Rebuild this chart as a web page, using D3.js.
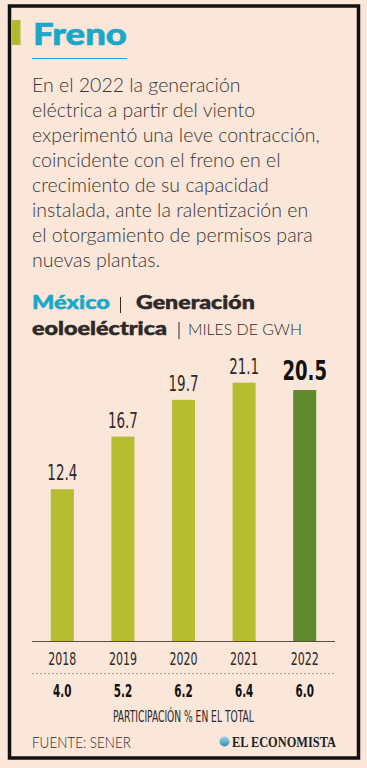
<!DOCTYPE html>
<html>
<head>
<meta charset="utf-8">
<script src="https://cdn.jsdelivr.net/npm/d3@7"></script>
<style>
  html, body { margin: 0; padding: 0; background: #fbe6da; }
  svg { display: block; }
</style>
</head>
<body>
<svg id="chart" width="367" height="768"></svg>
<script>
// data
const years = ['2018', '2019', '2020', '2021', '2022'];
const generation = [12.4, 16.7, 19.7, 21.1, 20.5];   // miles de GWh
const share = [4.0, 5.2, 6.2, 6.4, 6.0];              // participación % en el total

const title = 'Freno';
const bodyLines = [
  'En el 2022 la generación',
  'eléctrica a partir del viento',
  'experimentó una leve contracción,',
  'coincidente con el freno en el',
  'crecimiento de su capacidad',
  'instalada, ante la ralentización en',
  'el otorgamiento de permisos para',
  'nuevas plantas.'
];

const cyan = '#1ba7c9';
const barColor = '#b6bd30';
const lastColor = '#5e8a2b';
const ink = '#2e2826';
const narrow = '"Liberation Sans Narrow", "DejaVu Sans Condensed", sans-serif';
const geo = 'Lato, "Noto Sans", sans-serif';

const svg = d3.select('#chart');

// put a label at (x, y) and scale it horizontally to the width it has in print
function label(x, y, w, txt) {
  const t = svg.append('text').text(txt);
  return {
    t,
    done() {
      const len = t.node().getComputedTextLength();
      t.attr('transform', `translate(${x},${y}) scale(${w / len},1)`);
      return t;
    }
  };
}
function fitted(x, y, w, txt, styler) {
  const l = label(x, y, w, txt);
  styler(l.t);
  return l.done();
}

// frame
svg.append('rect')
  .attr('x', 9.5).attr('y', 6)
  .attr('width', 349).attr('height', 752)
  .attr('fill', 'none').attr('stroke', '#111').attr('stroke-width', 3.5);

svg.append('rect')
  .attr('x', 11.5).attr('y', 20).attr('width', 9).attr('height', 25)
  .attr('fill', '#b2b92c');

// title
fitted(33, 45, 94, title, t => t
  .attr('font-family', geo).attr('font-weight', 900).attr('font-size', 31)
  .attr('fill', cyan).attr('stroke', cyan).attr('stroke-width', 0.6));

svg.append('line')
  .attr('x1', 32).attr('x2', 127).attr('y1', 58.5).attr('y2', 58.5)
  .attr('stroke', cyan).attr('stroke-width', 1);

// body copy
svg.append('g').selectAll('text')
  .data(bodyLines)
  .enter().append('text')
  .attr('x', 32)
  .attr('y', (d, i) => 91.5 + i * 25)
  .attr('font-family', geo).attr('font-weight', 300).attr('font-size', 19.5)
  .attr('fill', '#3a3431')
  .text(d => d);

// chart heading
const heavy = c => t => t
  .attr('font-family', geo).attr('font-weight', 900).attr('font-size', 19)
  .attr('fill', c).attr('stroke', c).attr('stroke-width', 0.5);
fitted(32, 309, 78, 'México', heavy(cyan));
fitted(136, 309, 119, 'Generación', heavy(ink));
svg.append('line').attr('x1', 120.5).attr('x2', 120.5).attr('y1', 297).attr('y2', 313)
  .attr('stroke', ink).attr('stroke-width', 1);

fitted(32, 335, 135, 'eoloeléctrica', heavy(ink));
svg.append('line').attr('x1', 179).attr('x2', 179).attr('y1', 322).attr('y2', 339)
  .attr('stroke', ink).attr('stroke-width', 1);
fitted(188, 335, 114, 'MILES DE GWH', t => t
  .attr('font-family', geo).attr('font-weight', 300).attr('font-size', 15)
  .attr('fill', ink));

// scales
const x = d3.scaleBand()
  .domain(years)
  .range([32, 335])
  .paddingInner(0.62)
  .paddingOuter(0.31);

const y = d3.scaleLinear()
  .domain([0, 21.1])
  .range([641, 382.7]);

const last = years[years.length - 1];

svg.append('g').selectAll('rect')
  .data(years)
  .enter().append('rect')
  .attr('x', d => x(d))
  .attr('y', (d, i) => y(generation[i]))
  .attr('width', x.bandwidth())
  .attr('height', (d, i) => y(0) - y(generation[i]))
  .attr('fill', d => d === last ? lastColor : barColor);

// value labels
svg.append('g').selectAll('text')
  .data(years)
  .enter().append('text')
  .attr('transform', (d, i) => `translate(${x(d) + x.bandwidth() / 2},${y(generation[i]) - (d === last ? 10 : 9)}) scale(${d === last ? 0.77 : 0.68},1)`)
  .attr('text-anchor', 'middle')
  .attr('font-family', narrow)
  .attr('font-weight', d => d === last ? 700 : 400)
  .attr('font-size', d => d === last ? 26 : 22)
  .attr('fill', d => d === last ? '#111' : ink)
  .text((d, i) => generation[i].toFixed(1));

// x axis
const xAxis = svg.append('g')
  .attr('transform', `translate(0,${y(0)})`)
  .call(d3.axisBottom(x).tickSize(0).tickPadding(0));
xAxis.select('.domain')
  .attr('d', 'M32,0.5H335')
  .attr('stroke', '#5a4b43').attr('stroke-width', 1.2);
xAxis.selectAll('.tick text')
  .attr('dy', null)
  .attr('y', 0)
  .attr('transform', 'translate(0,24) scale(0.68,1)')
  .attr('font-family', narrow).attr('font-size', 18)
  .attr('fill', ink);

// dotted divider
svg.append('line')
  .attr('x1', 32).attr('x2', 335).attr('y1', 673.5).attr('y2', 673.5)
  .attr('stroke', '#a89e98').attr('stroke-width', 1)
  .attr('stroke-dasharray', '2,2');

// share row
svg.append('g').selectAll('text')
  .data(years)
  .enter().append('text')
  .attr('transform', (d, i) => `translate(${x(d) + x.bandwidth() / 2},697) scale(0.68,1)`)
  .attr('text-anchor', 'middle')
  .attr('font-family', narrow).attr('font-weight', 700).attr('font-size', 17)
  .attr('fill', '#111')
  .text((d, i) => share[i].toFixed(1));

fitted(113, 722, 141, 'PARTICIPACIÓN % EN EL TOTAL', t => t
  .attr('font-family', narrow).attr('font-size', 16.5)
  .attr('fill', ink));

// footer
fitted(32, 748, 99, 'FUENTE: SENER', t => t
  .attr('font-family', geo).attr('font-weight', 300).attr('font-size', 15)
  .attr('fill', ink));

const grad = svg.append('defs').append('linearGradient')
  .attr('id', 'globe').attr('x1', 0).attr('y1', 0).attr('x2', 0).attr('y2', 1);
grad.append('stop').attr('offset', '0%').attr('stop-color', '#9fd3e6');
grad.append('stop').attr('offset', '100%').attr('stop-color', '#2a8fb5');
svg.append('circle').attr('cx', 224.5).attr('cy', 741.5).attr('r', 5)
  .attr('fill', 'url(#globe)');

fitted(232, 746.5, 104, 'EL ECONOMISTA', t => t
  .attr('font-family', '"Liberation Serif", "DejaVu Serif", serif')
  .attr('font-weight', 700).attr('font-size', 14)
  .attr('fill', '#222'));
</script>
</body>
</html>
